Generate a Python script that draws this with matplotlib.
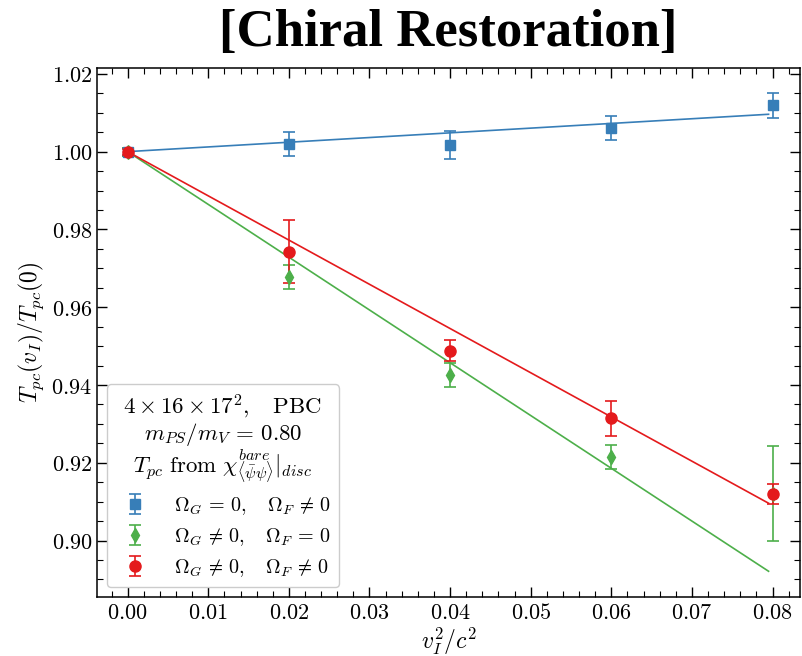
import numpy as np
import matplotlib
matplotlib.use("Agg")
import matplotlib.pyplot as plt
from matplotlib.ticker import MultipleLocator, FuncFormatter

plt.rcParams['mathtext.fontset'] = 'cm'
plt.rcParams['font.family'] = ['DejaVu Serif']

# data
v2 = [0.00, 0.02, 0.04, 0.06, 0.08]

blue_y = [1.0000, 1.0020, 1.0017, 1.0061, 1.0119]
blue_err = [0.0010, 0.0030, 0.0035, 0.0030, 0.0032]

green_y = [1.0000, 0.9677, 0.9426, 0.9215, 0.9121]
green_err = [0.0010, 0.0031, 0.0030, 0.0032, 0.0122]

red_y = [1.0000, 0.9743, 0.9488, 0.9315, 0.9120]
red_err = [0.0008, 0.0080, 0.0027, 0.0045, 0.0026]

# linear fits: T(v)/T(0) = a + b * v^2
fit_a = [1.0, 1.0, 1.0]
fit_b = [0.1208, -1.357, -1.137]
fit_xmax = 0.0795

colors = ['#377eb8', '#4daf4a', '#e41a1c']
markers = ['s', 'd', 'o']
msizes = [7, 7, 8]
labels = [r'$\Omega_G\,=\,0,\quad\Omega_F\,\neq\,0$',
          r'$\Omega_G\,\neq\,0,\quad\Omega_F\,=\,0$',
          r'$\Omega_G\,\neq\,0,\quad\Omega_F\,\neq\,0$']

fig = plt.figure(figsize=(8.02, 6.56), dpi=100)
ax = fig.add_axes([97 / 802, 59 / 656, 703 / 802, 529 / 656])

xs = np.linspace(0, fit_xmax, 50)
for a, b, c in zip(fit_a, fit_b, colors):
    ax.plot(xs, a + b * xs, color=c, lw=1.2, zorder=2)

for y, e, c, m, ms, lab in zip([blue_y, green_y, red_y], [blue_err, green_err, red_err],
                               colors, markers, msizes, labels):
    ax.errorbar(v2, y, yerr=e, fmt=m, color=c, ms=ms, capsize=4, capthick=1.2,
                elinewidth=1.2, label=lab, zorder=3)

ax.set_xlim(-0.0038, 0.0834)
ax.set_ylim(0.8855, 1.0215)

ax.xaxis.set_major_locator(MultipleLocator(0.01))
ax.xaxis.set_minor_locator(MultipleLocator(0.002))
ax.yaxis.set_major_locator(MultipleLocator(0.02))
ax.yaxis.set_minor_locator(MultipleLocator(0.005))
ax.xaxis.set_major_formatter(FuncFormatter(lambda v, p: r'$%.2f$' % v))
ax.yaxis.set_major_formatter(FuncFormatter(lambda v, p: r'$%.2f$' % v))
ax.tick_params(which='both', direction='in', top=True, right=True, labelsize=16)
ax.tick_params(which='major', length=7, width=1)
ax.tick_params(which='minor', length=4, width=0.8)
for s in ax.spines.values():
    s.set_linewidth(1.1)

ax.set_xlabel(r'$v_I^2/c^2$', fontsize=17, labelpad=2)
ax.xaxis.set_label_coords(0.5, -0.055)
ax.set_ylabel(r'$T_{pc}(v_I)/T_{pc}(0)$', fontsize=17, labelpad=4)

ax.set_title('[Chiral Restoration]', fontsize=38, fontweight='bold',
             family='Liberation Serif', pad=16)

title = (r'$4\times16\times17^2,\quad\mathrm{PBC}$' + '\n' +
         r'$m_{PS}/m_V\,=\,0.80$' + '\n' +
         r'$T_{pc}\ \mathrm{from}\ \chi^{bare}_{\langle\bar{\psi}\psi\rangle}|_{disc}$')
leg = ax.legend(loc='lower left', title=title, fontsize=14.5, title_fontsize=16.5,
                handletextpad=0.9, borderpad=0.4, labelspacing=0.45,
                fancybox=True, framealpha=1, edgecolor='#cccccc')
leg.get_title().set_multialignment('center')
leg.get_title().set_linespacing(1.0)

fig.savefig('out.png', dpi=100)
